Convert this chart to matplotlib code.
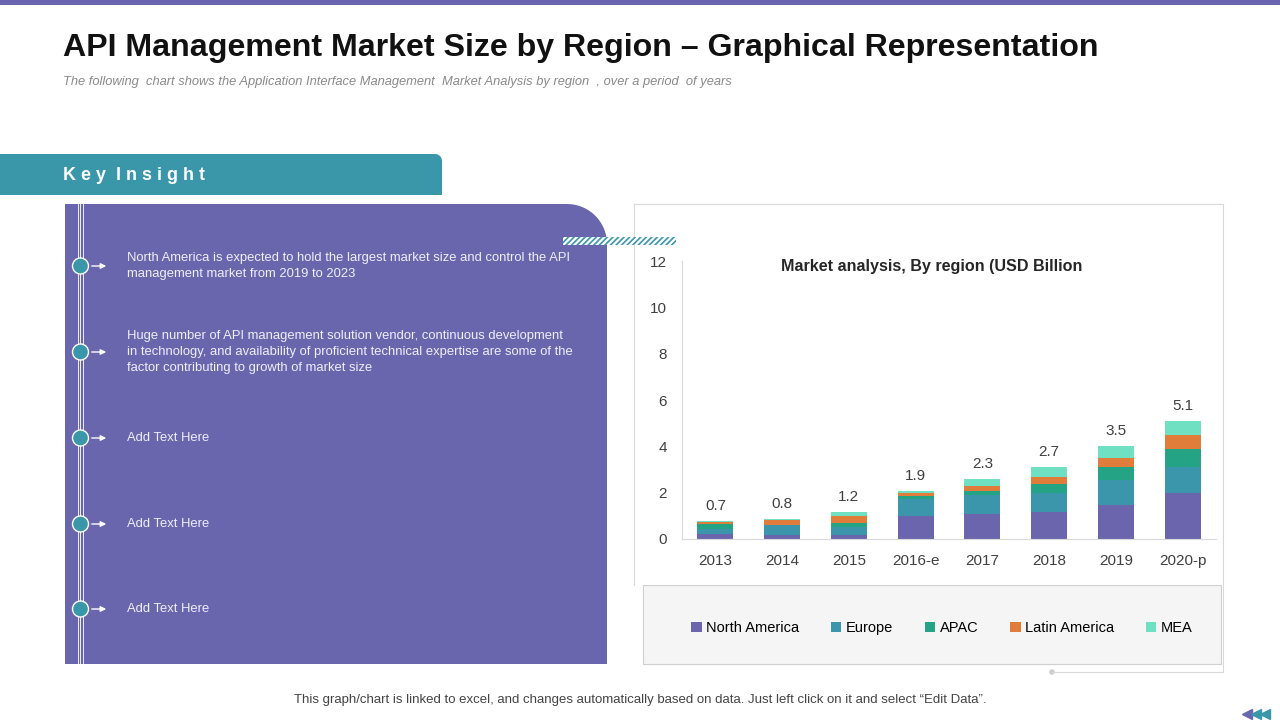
import matplotlib
matplotlib.use("Agg")
import matplotlib.pyplot as plt
import numpy as np
from matplotlib import font_manager
from matplotlib.patches import Circle, PathPatch, Rectangle
from matplotlib.path import Path

# data
years = ["2013", "2014", "2015", "2016-e", "2017", "2018", "2019", "2020-p"]
north_america = [0.20, 0.17, 0.17, 0.99, 1.08, 1.17, 1.47, 2.00]
europe = [0.25, 0.42, 0.35, 0.75, 0.82, 0.83, 1.08, 1.09]
apac = [0.20, 0.03, 0.17, 0.13, 0.19, 0.37, 0.55, 0.79]
latin_america = [0.09, 0.20, 0.32, 0.10, 0.20, 0.29, 0.40, 0.59]
mea = [0.04, 0.06, 0.16, 0.10, 0.30, 0.45, 0.52, 0.62]
total_labels = ["0.7", "0.8", "1.2", "1.9", "2.3", "2.7", "3.5", "5.1"]
region_names = ["North America", "Europe", "APAC", "Latin America", "MEA"]
region_colors = ["#6b65ad", "#3b95ab", "#25a385", "#e07d3a", "#6fe0c2"]
y_ticks = [0, 2, 4, 6, 8, 10, 12]

insights = [
    "North America is expected to hold the largest market size and control the API\nmanagement market from 2019 to 2023",
    "Huge number of API management solution vendor, continuous development\nin technology, and availability of proficient technical expertise are some of the\nfactor contributing to growth of market size",
    "Add Text Here",
    "Add Text Here",
    "Add Text Here",
]

PURPLE = "#6a66ae"
TEAL = "#3a97aa"

installed = {f.name for f in font_manager.fontManager.ttflist}
NARROW = "Liberation Sans Narrow" if "Liberation Sans Narrow" in installed else "Liberation Sans"
REGULAR = "Liberation Sans"


def round_top_right(x0, y0, x1, y1, r):
    """Rectangle path in pixel coords (y down) with the top-right corner rounded."""
    theta = np.linspace(-np.pi / 2, 0, 20)
    arc_x = x1 - r + r * np.cos(theta)
    arc_y = y0 + r + r * np.sin(theta)
    xs = [x0, x0] + list(arc_x) + [x1, x0]
    ys = [y1, y0] + list(arc_y) + [y1, y1]
    return Path(np.column_stack([xs, ys]))


fig = plt.figure(figsize=(12.8, 7.2), dpi=100)
bg = fig.add_axes([0, 0, 1, 1])
bg.set_xlim(0, 1280)
bg.set_ylim(720, 0)
bg.axis("off")

# top stripe
bg.add_patch(Rectangle((0, 0), 1280, 5, color=PURPLE, lw=0))

bg.text(63, 48, "API Management Market Size by Region \u2013 Graphical Representation",
        family=NARROW, fontweight="bold", fontsize=23.1, color="#111111", va="center")
bg.text(63, 82, "The following  chart shows the Application Interface Management  Market Analysis by region  , over a period  of years",
        family=REGULAR, style="italic", fontsize=9.3, color="#8a8a8a", va="center")

# key insight panel
bg.add_patch(PathPatch(round_top_right(0, 154, 442, 195, 7), facecolor=TEAL, lw=0))
bg.text(63, 176, "K e y  I n s i g h t", family=REGULAR, fontweight="bold",
        fontsize=12.9, color="white", va="center")
bg.add_patch(PathPatch(round_top_right(65, 204, 607, 664, 40), facecolor=PURPLE, lw=0))
for lx in (77.5, 80.3, 83.0):
    bg.plot([lx, lx], [204, 664], color="white", lw=0.7, alpha=0.9)

item_y = [266, 352, 438, 524, 609]
for yy, txt in zip(item_y, insights):
    bg.add_patch(Circle((80.5, yy), 8, facecolor=TEAL, edgecolor="white", lw=1.0, zorder=3))
    bg.annotate("", xy=(109, yy), xytext=(89, yy),
                arrowprops=dict(arrowstyle="-|>", color="white", lw=1.0, mutation_scale=8))
    bg.text(127, yy, txt, family=NARROW, fontsize=9.4, color="#eeeef8",
            va="center", linespacing=1.4)

# chart frame and legend box
bg.plot([634, 1223, 1223], [204, 204, 672], color="#d9d9d9", lw=0.8)
bg.plot([634, 634], [204, 585], color="#d9d9d9", lw=0.8)
bg.plot([1052, 1223], [672, 672], color="#d9d9d9", lw=0.8)
bg.add_patch(Circle((1052, 672), 2, color="#cccccc"))
bg.add_patch(Rectangle((643, 585), 578, 79, facecolor="#f5f5f5", edgecolor="#d0d0d0", lw=0.8))

plt.rcParams["hatch.linewidth"] = 1.2
bg.add_patch(Rectangle((563, 237), 113, 8, facecolor="white", edgecolor=TEAL,
                       hatch="//////", lw=0, zorder=4))

bg.text(932, 266, "Market analysis, By region (USD Billion", family=NARROW,
        fontweight="bold", fontsize=11.6, color="#262626", ha="center", va="center")

bg.text(640, 700, "This graph/chart is linked to excel, and changes automatically based on data. Just left click on it and select \u201cEdit Data\u201d.",
        family=NARROW, fontsize=9.5, color="#444444", ha="center", va="center")

bg.plot([1247], [714], marker="<", color=PURPLE, markersize=6.5, lw=0)
bg.plot([1256, 1265], [714, 714], marker="<", color=TEAL, markersize=6.5, lw=0)

# stacked bar chart
ax = fig.add_axes([682 / 1280, 1 - 539 / 720, 534 / 1280, 278 / 720])
ax.set_facecolor("none")
x = np.arange(len(years))
bottom = np.zeros(len(years))
handles = []
for values, name, color in zip([north_america, europe, apac, latin_america, mea],
                               region_names, region_colors):
    bars = ax.bar(x, values, 0.54, bottom=bottom, color=color, label=name)
    handles.append(bars)
    bottom = bottom + np.array(values)

for xi, top, lab in zip(x, bottom, total_labels):
    ax.annotate(lab, (xi, top), xytext=(0, 15), textcoords="offset pixels",
                ha="center", va="center", family=REGULAR, fontsize=11, color="#404040")

ax.set_xlim(-0.5, len(years) - 0.5)
ax.set_ylim(0, 12)
ax.set_yticks(y_ticks)
ax.set_xticks(x)
ax.set_xticklabels(years)
ax.tick_params(length=0, labelsize=11, labelcolor="#404040")
ax.tick_params(axis="y", pad=11)
ax.tick_params(axis="x", pad=11)
for lab in ax.get_xticklabels() + ax.get_yticklabels():
    lab.set_family(REGULAR)
for side in ("top", "right"):
    ax.spines[side].set_visible(False)
for side in ("left", "bottom"):
    ax.spines[side].set_color("#d9d9d9")

ax.legend(handles=handles, loc="center", bbox_to_anchor=(942 / 1280, 1 - 628 / 720),
          bbox_transform=fig.transFigure, ncol=5, frameon=False,
          prop={"family": NARROW, "size": 10.5}, handlelength=0.7, handleheight=0.7,
          handletextpad=0.3, columnspacing=2.2)

fig.savefig("out.png", dpi=100)
